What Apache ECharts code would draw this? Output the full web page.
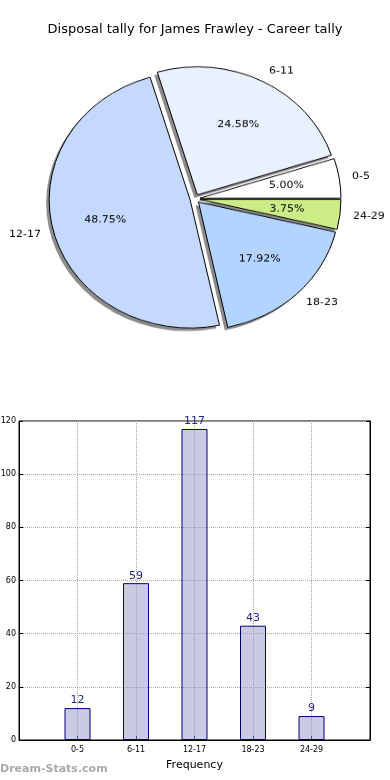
<!DOCTYPE html>
<html><head><meta charset="utf-8">
<script src="https://cdn.jsdelivr.net/npm/echarts@6/dist/echarts.min.js"></script>
<style>
html,body{margin:0;padding:0;background:#fff;}
#main{position:absolute;left:0;top:0;width:390px;height:780px;}
#pie{position:absolute;left:0;top:0;width:390px;height:430px;transform:scaleY(0.908);transform-origin:0 0;pointer-events:none;}
</style></head><body>
<div id="main"></div><div id="pie"></div>
<script>
const titleText = 'Disposal tally for James Frawley - Career tally';
const watermark = 'Dream-Stats.com';
const categories = ['0-5', '6-11', '12-17', '18-23', '24-29'];
const tally = [12, 59, 117, 43, 9];
const pieColors = ['#ffffff', '#e9f0ff', '#c5d8ff', '#b3d4ff', '#ccec88'];
const yMin = 0, yMax = 120, yStep = 20;
const xAxisName = 'Frequency';

const FF = 'DejaVu Sans';
const total = tally.reduce((a, b) => a + b, 0);

// bar chart: pad category list so the axis spans one extra slot on each side
const barCats = [''].concat(categories, ['']);
const barVals = [null].concat(tally, [null]);

const main = echarts.init(document.getElementById('main'), null, {renderer: 'canvas'});
main.setOption({
  animation: false,
  title: [
    {text: titleText, left: 'center', top: 23, padding: 0,
     textStyle: {fontSize: 13, fontWeight: 'normal', color: '#000', fontFamily: FF}},
    {text: watermark, left: 0, top: 764, padding: 0,
     textStyle: {fontSize: 11, fontWeight: 'bold', color: '#aaa', fontFamily: FF}}
  ],
  grid: {left: 19, right: 20, top: 421, bottom: 40, show: true, borderColor: '#000', borderWidth: 1,
         backgroundColor: 'transparent', containLabel: false, outerBoundsMode: 'none'},
  xAxis: {
    type: 'category', data: barCats, boundaryGap: false,
    axisLine: {show: true, lineStyle: {color: '#000'}},
    axisTick: {show: true, inside: true, length: 4, lineStyle: {color: '#000'}},
    axisLabel: {interval: 0, fontSize: 8, color: '#000', fontFamily: FF, margin: 6},
    splitLine: {show: true, lineStyle: {type: 'dotted', color: '#aaa'}},
    name: xAxisName, nameLocation: 'middle', nameGap: 20,
    nameTextStyle: {fontSize: 11, color: '#000', fontFamily: FF}
  },
  yAxis: [{
    type: 'value', min: yMin, max: yMax, interval: yStep,
    axisLine: {show: true, lineStyle: {color: '#000'}},
    axisTick: {show: true, inside: true, length: 4, lineStyle: {color: '#000'}},
    axisLabel: {fontSize: 8, color: '#000', fontFamily: FF, margin: 3},
    splitLine: {show: true, lineStyle: {type: 'dotted', color: '#aaa'}}
  }, {
    type: 'value', min: yMin, max: yMax, interval: yStep, position: 'right',
    axisLine: {show: true, lineStyle: {color: '#000'}},
    axisTick: {show: true, inside: true, length: 4, lineStyle: {color: '#000'}},
    axisLabel: {show: false}, splitLine: {show: false}
  }],
  series: [{
    type: 'bar', data: barVals, barWidth: 26, yAxisIndex: 0,
    itemStyle: {color: 'rgba(150,150,200,0.5)', borderColor: '#000080', borderWidth: 1},
    label: {show: true, position: 'top', distance: 2, fontSize: 11, color: '#1f1f8f', fontFamily: FF},
    emphasis: {disabled: true}
  }]
});

const pie = echarts.init(document.getElementById('pie'), null, {renderer: 'canvas'});
const pieCenter = [195, 219];
const shadowCenter = [192, 222.3];
const pieR = 141;
const common = {
  type: 'pie', startAngle: 0, clockwise: false,
  selectedMode: 'multiple', selectedOffset: 5, avoidLabelOverlap: false,
  emphasis: {disabled: true}
};
pie.setOption({
  animation: false,
  series: [
    // drop shadow layer
    Object.assign({}, common, {
      center: shadowCenter, radius: pieR, silent: true,
      itemStyle: {color: 'rgba(0,0,0,0.45)', borderWidth: 0},
      select: {itemStyle: {color: 'rgba(0,0,0,0.45)', borderWidth: 0}},
      label: {show: false}, labelLine: {show: false},
      data: categories.map((c, i) => ({name: c, value: tally[i], selected: true}))
    }),
    Object.assign({}, common, {
      center: pieCenter, radius: pieR,
      itemStyle: {borderColor: '#000', borderWidth: 1},
      select: {itemStyle: {borderColor: '#000', borderWidth: 1}},
      label: {show: true, position: 'outside', formatter: '{b}', fontSize: 11, color: '#000', fontFamily: FF, distanceToLabelLine: 0},
      labelLine: {show: false, length: 13, length2: 0},
      data: categories.map((c, i) => ({name: c, value: tally[i], selected: true, itemStyle: {color: pieColors[i]}}))
    }),
    Object.assign({}, common, {
      center: pieCenter, radius: pieR * 1.2, silent: true,
      itemStyle: {color: 'rgba(0,0,0,0)', borderWidth: 0},
      select: {itemStyle: {color: 'rgba(0,0,0,0)', borderWidth: 0}},
      label: {show: true, position: 'inside', fontSize: 11, color: '#000', fontFamily: FF,
        formatter: p => (p.value / total * 100).toFixed(2) + '%'},
      labelLine: {show: false},
      data: categories.map((c, i) => ({name: c, value: tally[i], selected: true}))
    })
  ]
});
</script>
</body></html>
